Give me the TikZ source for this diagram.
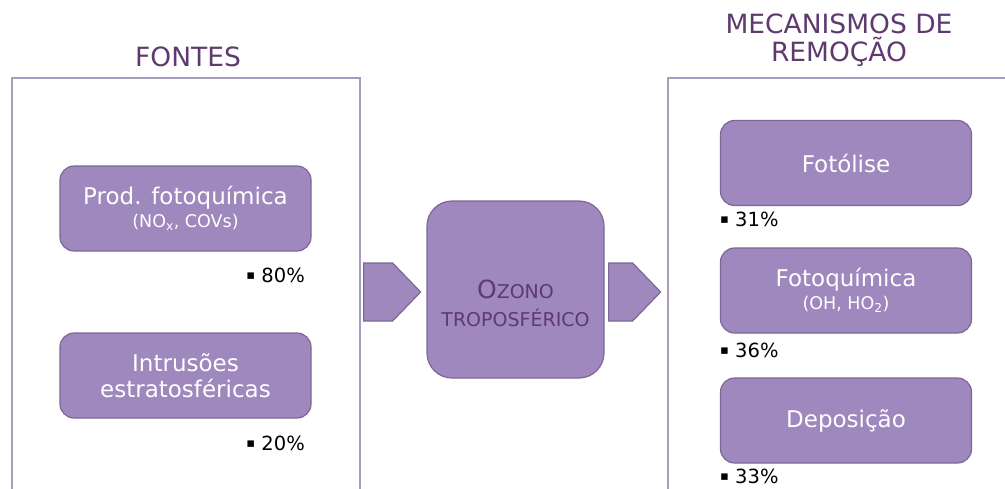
\documentclass[tikz,border=0pt]{standalone}
\usepackage{fontspec}
\setmainfont{DejaVu Sans}
\usetikzlibrary{shapes.symbols}
\definecolor{boxfill}{HTML}{9F88BD}
\definecolor{boxline}{HTML}{7B6894}
\definecolor{frameline}{HTML}{A69CC2}
\definecolor{titlecol}{HTML}{5E3A6E}
\newcommand{\sqb}{\raisebox{2.5pt}{\fontsize{13}{14}\selectfont ▪}}
\newcommand{\subtxt}{\fontsize{17.5}{20}\selectfont}
\tikzset{
  fbox/.style={draw=boxline, line width=1.2pt, fill=boxfill, rounded corners=14pt,
    minimum width=251pt, minimum height=85pt, text=white, align=center,
    font=\fontsize{23}{26}\selectfont},
  pct/.style={font=\fontsize{19.5}{22}\selectfont, inner sep=0pt},
  sig/.style={shape=signal, signal to=east, signal pointer angle=92, draw=boxline,
    line width=1.2pt, fill=boxfill, minimum width=57pt, minimum height=58pt,
    inner sep=0pt, anchor=west},
  ttl/.style={text=titlecol, font=\fontsize{26.5}{28}\selectfont, align=center}
}
\begin{document}
\begin{tikzpicture}[x=1pt, y=-1pt]
\useasboundingbox (0,0) rectangle (1005,488);
% frames
\draw[frameline, line width=2pt] (12,492)--(12,78)--(360,78)--(360,492);
\draw[frameline, line width=2pt] (668,492)--(668,78)--(1010,78);
\node[ttl] (fontes) at (188,57) {FONTES};
\node[ttl] (remocao) at (839,40) {MECANISMOS DE\\REMOÇÃO};
% sources
\node[fbox] (prod) at (185.5,208.5) {Prod. fotoquímica\\[-3pt]{\subtxt (NO\textsubscript{x}, COVs)}};
\node[pct, anchor=east] (p80) at (305,275) {\sqb\ 80\%};
\node[fbox] (intr) at (185.5,375.5) {Intrusões\\estratosféricas};
\node[pct, anchor=east] (p20) at (305,443) {\sqb\ 20\%};
% ozone
\node[sig] (in) at (363,292) {};
\node[fbox, minimum width=177pt, minimum height=177pt, rounded corners=25pt] (oz) at (515.5,289.5) {};
\node[text=titlecol, align=center] (oztxt) at (515.5,303)
  {{\fontsize{25}{28}\selectfont O}{\fontsize{19}{28}\selectfont ZONO}\\[9pt]{\fontsize{19}{28}\selectfont TROPOSFÉRICO}};
\node[sig, minimum width=52pt] (out) at (608,292) {};
% removal
\node[fbox] (fotol) at (846,163) {Fotólise};
\node[pct, anchor=west] (p31) at (720,219) {\sqb\ 31\%};
\node[fbox] (fotoq) at (846,290.5) {Fotoquímica\\[-3pt]{\subtxt (OH, HO\textsubscript{2})}};
\node[pct, anchor=west] (p36) at (720,350) {\sqb\ 36\%};
\node[fbox] (depo) at (846,420.5) {Deposição};
\node[pct, anchor=west] (p33) at (720,476) {\sqb\ 33\%};
\end{tikzpicture}
\end{document}
